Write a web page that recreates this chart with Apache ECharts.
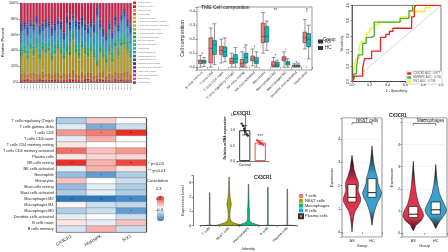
<!DOCTYPE html>
<html>
<head>
<meta charset="utf-8">
<script src="https://cdn.jsdelivr.net/npm/echarts/dist/echarts.min.js"></script>
<style>
html,body{margin:0;padding:0;background:#fff}
#main{width:448px;height:252px}
</style>
</head>
<body>
<div id="main"></div>
<script>
// ---------- data ----------
var FONT = 'Liberation Sans, Arial, sans-serif';

// A: CIBERSORT stacked bars
var samples = ['AS01','AS02','AS03','AS04','AS05','AS06','AS07','AS08','AS09','AS10','AS11','AS12','AS13','AS14','AS15','AS16','AS17','AS18','AS19','AS20',
  'HC01','HC02','HC03','HC04','HC05','HC06','HC07','HC08','HC09','HC10','HC11','HC12','HC13','HC14','HC15','HC16','HC17'];
var cellTypes = ['B cells naive','B cells memory','Plasma cells','T cells CD8','T cells CD4 naive','T cells CD4 memory resting',
  'T cells CD4 memory activated','T cells follicular helper','T cells regulatory (Tregs)','T cells gamma delta','NK cells resting',
  'NK cells activated','Monocytes','Macrophages M0','Macrophages M1','Macrophages M2','Dendritic cells resting',
  'Dendritic cells activated','Mast cells resting','Mast cells activated','Eosinophils','Neutrophils'];
var typeColors = ['#E41E26','#B31B2C','#E8892B','#C8701E','#D4B51C','#B39E1F','#A9C52A','#6CBF2F','#3FAE3B','#2D9A4A','#21C15C',
  '#1FAE8E','#22B5C9','#3D93C9','#2F6FC3','#2552B2','#272E9E','#6A2FB3','#9B2DB3','#C82AA8','#E74A98','#D6214F'];
var bNaive   = [2,1,3,2,1,2,3,1,2,2,1,3,2,1,2,2,3,1,2,2,1,3,2,2,1,2,3,1,2,2,1,3,2,1,2,2,1];
var bMemory  = [1,2,1,0,1,1,0,2,1,1,2,0,1,1,1,0,1,2,1,0,1,1,2,1,0,1,1,2,1,1,0,1,1,2,1,0,1];
var plasma   = [2,1,2,3,1,2,1,2,3,1,2,2,1,3,2,1,2,2,1,2,3,1,2,1,2,1,2,3,1,2,2,1,2,1,3,2,1];
var tCD8     = [5,7,4,6,8,5,6,9,4,7,5,6,8,4,6,7,5,9,6,4,7,5,6,8,5,3,6,7,4,6,5,8,6,7,5,9,6];
var cd4Naive = [2,1,3,2,1,2,1,3,2,1,2,1,2,3,1,2,1,2,2,1,3,2,1,2,1,1,2,1,2,3,1,2,1,2,1,2,1];
var cd4Rest  = [18,22,15,25,20,28,17,24,21,26,16,20,27,22,14,25,19,30,23,18,26,21,17,24,20,12,22,16,13,24,15,26,20,28,30,22,18];
var cd4Act   = [1,2,1,1,3,1,2,1,1,2,1,3,1,1,2,1,1,2,1,3,1,1,2,1,1,0,1,2,1,1,3,1,1,2,1,1,2];
var tfh      = [2,1,2,3,1,2,2,1,3,2,1,2,1,2,3,1,2,1,2,2,1,3,2,1,2,1,2,1,3,2,1,2,2,1,2,3,1];
var tregs    = [1,2,2,1,2,1,3,2,1,2,2,1,2,1,2,3,1,2,1,2,1,2,1,3,2,1,1,2,2,1,2,1,3,1,2,1,2];
var gammaD   = [2,1,1,2,3,1,1,2,2,1,3,1,2,2,1,1,3,1,2,1,2,1,3,1,2,1,2,1,1,2,1,3,1,2,1,2,1];
var nkRest   = [4,3,5,2,4,6,3,4,5,3,4,5,2,6,3,4,5,3,4,6,2,4,5,3,4,2,3,5,4,3,6,2,4,3,5,4,3];
var nkAct    = [1,2,1,1,2,1,2,1,1,2,1,1,2,1,1,2,1,1,2,1,1,2,1,1,2,1,1,2,1,1,2,1,1,2,1,1,2];
var mono     = [8,6,9,7,5,8,10,6,7,8,9,6,7,8,6,9,7,5,8,10,7,6,8,9,7,30,8,6,9,7,8,6,10,7,8,6,9];
var macM0    = [12,14,10,13,15,11,12,10,14,13,11,12,14,12,10,15,13,10,12,14,11,13,10,12,14,20,12,10,11,13,10,12,11,13,14,12,11];
var macM1    = [2,1,2,2,1,2,1,2,1,2,2,1,2,1,2,1,2,1,2,1,2,2,1,2,1,1,2,1,2,1,2,1,2,1,2,1,2];
var macM2    = [6,5,7,5,6,4,7,5,6,4,6,7,5,6,5,7,6,4,5,6,7,5,6,4,6,8,5,6,5,7,4,6,5,6,4,5,6];
var dcRest   = [2,3,2,1,2,3,2,2,1,3,2,2,1,3,2,2,3,1,2,2,3,2,1,2,3,2,2,3,1,2,2,3,2,1,2,3,2];
var dcAct    = [1,1,2,1,1,1,2,1,1,1,2,1,1,1,2,1,1,1,2,1,1,1,2,1,1,1,2,1,1,1,2,1,1,1,2,1,1];
var mastRest = [1,0,1,1,0,1,1,0,1,2,0,1,1,0,1,1,0,1,1,0,1,2,0,1,1,0,1,1,0,1,1,0,2,1,0,1,1];
var mastAct  = [0,1,0,0,1,0,0,1,0,0,1,0,0,1,0,1,1,0,0,1,0,0,1,0,0,1,0,0,1,0,0,1,0,0,1,0,0];
var eosino   = [1,0,1,1,1,0,1,1,0,1,1,0,1,1,0,1,1,0,1,1,0,1,1,0,1,0,1,1,0,1,1,0,1,1,0,1,1];
var neutro   = [24,22,28,20,26,16,28,26,22,20,30,24,18,22,37,13,22,11,20,22,16,24,28,22,26,3,20,32,43,22,37,16,26,11,7,18,26];
var rawA = [bNaive,bMemory,plasma,tCD8,cd4Naive,cd4Rest,cd4Act,tfh,tregs,gammaD,nkRest,nkAct,mono,macM0,macM1,macM2,
  dcRest,dcAct,mastRest,mastAct,eosino,neutro];

// B: TME box plot  [min, Q1, median, Q3, max]
var cellsB = ['B cells memory','T cells CD8','T cells CD4 naive','T cells regulatory (Tregs)','NK cells resting',
  'NK cells activated','Monocytes','Macrophages M0','Macrophages M2','Dendritic cells activated','Neutrophils'];
var boxAS = [[0,0.025,0.04,0.052,0.085],[0,0.03,0.135,0.21,0.28],[0.03,0.09,0.12,0.15,0.2],[0,0.025,0.04,0.065,0.1],
  [0,0.005,0.025,0.055,0.11],[0.01,0.045,0.06,0.08,0.13],[0.1,0.175,0.22,0.315,0.39],[0,0.005,0.015,0.04,0.07],
  [0,0.045,0.06,0.075,0.11],[0,0.004,0.008,0.015,0.025],[0.13,0.175,0.21,0.25,0.34]];
var boxHC = [[0.005,0.028,0.04,0.05,0.07],[0.02,0.09,0.16,0.19,0.31],[0.04,0.075,0.11,0.145,0.21],[0,0.03,0.06,0.09,0.14],
  [0,0.03,0.07,0.1,0.16],[0,0.025,0.04,0.07,0.11],[0.12,0.18,0.22,0.29,0.33],[0,0.005,0.015,0.035,0.05],
  [0,0.015,0.03,0.04,0.06],[0,0.004,0.01,0.016,0.03],[0.06,0.145,0.2,0.24,0.3]];
var outliersB = [[0,0.1],[4,0.14],[5,0.15],[7,0.09],[8,0.13],[9,0.04],[10,0.4],[10,0.0]];
var sigB = [[7,0.4,'**'],[10,0.4,'*']];

// C: ROC
var rocNames = ['CX3CR1 AUC : 0.677','HNRNPK AUC : 0.765','SIX1 AUC : 0.788'];
var rocCX3CR1 = [[0,0],[0.02,0.04],[0.02,0.07],[0.12,0.07],[0.12,0.18],[0.14,0.18],[0.14,0.3],[0.22,0.3],[0.22,0.4],[0.32,0.4],
  [0.32,0.58],[0.38,0.58],[0.38,0.62],[0.42,0.62],[0.42,0.66],[0.46,0.66],[0.46,0.7],[0.67,0.7],[0.67,0.85],[0.7,0.85],
  [0.7,0.97],[0.72,0.97],[0.72,1],[1,1]];
var rocHNRNPK = [[0,0],[0.02,0.04],[0.02,0.1],[0.05,0.1],[0.05,0.18],[0.07,0.18],[0.07,0.35],[0.12,0.35],[0.12,0.5],[0.16,0.5],
  [0.16,0.58],[0.22,0.58],[0.22,0.6],[0.25,0.6],[0.25,0.78],[0.54,0.78],[0.54,0.83],[0.64,0.83],[0.64,0.93],[0.68,0.93],
  [0.68,1],[1,1]];
var rocSIX1 = [[0,0],[0.02,0.05],[0.02,0.15],[0.04,0.15],[0.04,0.3],[0.08,0.3],[0.08,0.45],[0.1,0.45],[0.1,0.52],[0.15,0.52],
  [0.15,0.55],[0.17,0.55],[0.17,0.65],[0.2,0.65],[0.2,0.7],[0.25,0.7],[0.25,0.75],[0.3,0.75],[0.3,0.78],[0.55,0.78],
  [0.55,0.85],[0.65,0.85],[0.65,0.92],[0.82,0.92],[0.82,0.97],[0.88,0.97],[0.88,1],[1,1]];
var rocColors = ['#E8201E','#45B035','#F4EE2A'];

// D: correlation heatmap
var genes = ['CX3CR1','HNRNPK','SIX1'];
var rowsD = ['T cells regulatory (Tregs)','T cells gamma delta','T cells CD8','T cells CD4 naive','T cells CD4 memory resting',
  'T cells CD4 memory activated','Plasma cells','NK cells resting','NK cells activated','Neutrophils','Monocytes',
  'Mast cells resting','Mast cells activated','Macrophages M2','Macrophages M1','Macrophages M0',
  'Dendritic cells activated','B cells naive','B cells memory'];
var corrCX3CR1 = [-0.15,-0.06,0.2,-0.05,0.05,0.28,0.05,0.4,-0.05,-0.2,0.12,-0.2,-0.15,-0.4,0.02,-0.15,-0.05,0.05,-0.08];
var corrHNRNPK = [0.1,-0.25,0.25,0.15,0.0,0.12,0.08,0.15,0.15,-0.3,0.0,-0.05,-0.05,-0.4,-0.1,-0.1,0.0,-0.05,0.15];
var corrSIX1   = [0.0,-0.1,0.4,0.0,0.0,0.2,0.08,0.35,0.05,-0.15,-0.1,-0.15,-0.15,-0.35,-0.12,-0.3,-0.1,0.12,-0.1];
var sigCX3CR1 = ['','','','','','*','','**','','','','','','**','','','','',''];
var sigHNRNPK = ['','*','*','','','','','','','*','','','','**','','','','',''];
var sigSIX1   = ['','','**','','','','','**','','','','','','**','','*','','',''];

// E: qPCR bar
var groupsE = ['Control','AS'];
var meansE = [1.0, 0.6];
var sdE = [0.15, 0.06];
var ptsControl = [1.22,1.15,1.05,0.95,0.88,0.83];
var ptsAS = [0.68,0.64,0.6,0.58,0.56,0.52];

// F: single-cell violin (level, half width as share of band)
var identities = ['T cells','NK&T cells','Macrophages','B cells','Plasma cells'];
var idColors = ['#F8766D','#A3A500','#00BF7D','#00B0F6','#E76BF3'];
var violinsF = [
  {lv:[0,0.03,2.3], w:[0.42,0.02,0.015]},
  {lv:[0,0.08,0.18,0.3,0.5,0.8,1.1,1.35,1.55,1.75,2.0,2.4,2.8,3.4], w:[0.7,0.5,0.25,0.1,0.05,0.04,0.06,0.1,0.11,0.08,0.05,0.03,0.02,0.01]},
  {lv:[0,0.08,0.18,0.3,0.6,0.9,1.1,1.4,2.0,2.9], w:[0.62,0.42,0.2,0.07,0.04,0.05,0.05,0.03,0.02,0.01]},
  {lv:[0,0.03,2.67], w:[0.45,0.02,0.015]},
  {lv:[0,0.03,2.55], w:[0.45,0.02,0.015]}
];

// G: group violins, boxes [Q1, median, Q3]
var groupsG = ['AS','HC'];
var groupColors = ['#E0344E','#3AA0CC'];
var nkAS = {lv:[0.02,0.4,0.7,0.9,1.1,1.3,1.45,1.6,1.8,2.0,2.2,2.4,2.7,3.0,3.3], w:[0,0.04,0.09,0.16,0.3,0.42,0.44,0.38,0.3,0.33,0.3,0.2,0.1,0.05,0]};
var nkHC = {lv:[0.3,0.6,0.9,1.1,1.3,1.5,1.7,1.9,2.1,2.3,2.6,3.0,3.4,3.7], w:[0,0.05,0.12,0.2,0.28,0.42,0.48,0.38,0.3,0.28,0.18,0.08,0.03,0]};
var nkBox = [[1.3,1.5,2.05],[1.5,1.7,2.3]];
var macAS = {lv:[0.1,0.35,0.55,0.75,0.9,1.1,1.3,1.6,2.0,2.4,2.8,3.25], w:[0,0.12,0.35,0.46,0.44,0.35,0.25,0.17,0.1,0.06,0.03,0]};
var macHC = {lv:[0.2,0.45,0.7,0.9,1.05,1.25,1.5,1.8,2.2,2.6,3.1], w:[0,0.12,0.3,0.44,0.48,0.4,0.28,0.16,0.08,0.04,0]};
var macBox = [[0.7,0.85,1.2],[0.85,1.05,1.4]];

// ---------- helpers ----------
function txt(size, extra) {
  var s = {fontFamily: FONT, fontSize: size, color: '#222', textBorderWidth: 0, textShadowBlur: 0};
  for (var k in extra) s[k] = extra[k];
  return s;
}
function isStep(v, step) { return Math.abs(v / step - Math.round(v / step)) < 1e-6; }

function violinRender(prof, fill, stroke, box) {
  return function (params, api) {
    var k = api.value(0);
    var band = api.size([1, 0])[0];
    var L = [], R = [];
    for (var i = 0; i < prof.lv.length; i++) {
      var c = api.coord([k, prof.lv[i]]);
      L.push([c[0] - prof.w[i] * band, c[1]]);
      R.unshift([c[0] + prof.w[i] * band, c[1]]);
    }
    var kids = [{type: 'polygon', shape: {points: L.concat(R)}, style: {fill: fill, stroke: stroke, lineWidth: 0.5}}];
    if (box) {
      var a = api.coord([k, box[0]]), m = api.coord([k, box[1]]), b = api.coord([k, box[2]]);
      var hw = 0.2 * band;
      kids.push({type: 'rect', shape: {x: a[0] - hw, y: b[1], width: 2 * hw, height: a[1] - b[1]},
        style: {fill: '#fff', stroke: '#000', lineWidth: 0.6}});
      kids.push({type: 'line', shape: {x1: m[0] - hw, y1: m[1], x2: m[0] + hw, y2: m[1]},
        style: {stroke: '#000', lineWidth: 0.9}});
    }
    return {type: 'group', children: kids};
  };
}
function gradFill(col) {
  return new echarts.graphic.LinearGradient(0, 0, 0, 1, [
    {offset: 0, color: '#000'}, {offset: 0.35, color: col}, {offset: 0.8, color: col}, {offset: 1, color: '#2a0a10'}]);
}
function bracketRender(label) {
  return function (params, api) {
    var y = api.value(1);
    var p0 = api.coord([0, y]), p1 = api.coord([1, y]);
    return {type: 'group', children: [
      {type: 'polyline', shape: {points: [[p0[0], p0[1] + 2], [p0[0], p0[1]], [p1[0], p1[1]], [p1[0], p1[1] + 2]]},
        style: {stroke: '#000', lineWidth: 0.5, fill: null}},
      {type: 'text', style: {text: label, x: (p0[0] + p1[0]) / 2, y: p0[1] - 0.5, align: 'center', verticalAlign: 'bottom',
        fontSize: 4, fontFamily: FONT, fill: '#000'}}
    ]};
  };
}

// ---------- option ----------
var series = [];

// A
var totals = samples.map(function (s, j) {
  var t = 0; rawA.forEach(function (arr) { t += arr[j]; }); return t;
});
rawA.forEach(function (arr, i) {
  series.push({name: cellTypes[i], type: 'bar', stack: 'pct', xAxisIndex: 0, yAxisIndex: 0, barCategoryGap: '20%',
    data: arr.map(function (v, j) { return v / totals[j] * 100; }),
    itemStyle: {color: typeColors[i], borderColor: '#333', borderWidth: 0.2}});
});

// B
series.push({name: 'AS', type: 'boxplot', xAxisIndex: 1, yAxisIndex: 1, boxWidth: [4, 4], data: boxAS,
  itemStyle: {color: '#F8766D', borderColor: '#333', borderWidth: 0.5}});
series.push({name: 'HC', type: 'boxplot', xAxisIndex: 1, yAxisIndex: 1, boxWidth: [4, 4], data: boxHC,
  itemStyle: {color: '#00BFC4', borderColor: '#333', borderWidth: 0.5}});
series.push({type: 'scatter', xAxisIndex: 1, yAxisIndex: 1, symbolSize: 1.2, data: outliersB, itemStyle: {color: '#333'}});
series.push({type: 'scatter', xAxisIndex: 1, yAxisIndex: 1, symbolSize: 0, data: sigB,
  label: {show: true, position: 'inside', formatter: function (p) { return p.data[2]; }, fontSize: 4.5, fontFamily: FONT,
    color: '#000', textBorderWidth: 0}});

// C
[rocCX3CR1, rocHNRNPK, rocSIX1].forEach(function (d, i) {
  series.push({name: rocNames[i], type: 'line', xAxisIndex: 2, yAxisIndex: 2, data: d, showSymbol: false,
    lineStyle: {color: rocColors[i], width: 1.3}, itemStyle: {color: rocColors[i]}, z: 5 - i});
});
series.push({type: 'line', xAxisIndex: 2, yAxisIndex: 2, data: [[0, 0], [1, 1]], showSymbol: false,
  lineStyle: {color: '#bbb', width: 0.6}});

// D
var corr = [corrCX3CR1, corrHNRNPK, corrSIX1];
var sigs = [sigCX3CR1, sigHNRNPK, sigSIX1];
var heat = [], stars = [];
corr.forEach(function (col, c) {
  col.forEach(function (v, r) {
    heat.push([c, r, v]);
    if (sigs[c][r]) stars.push([c, r, sigs[c][r]]);
  });
});
var heatIndex = series.length;
series.push({type: 'heatmap', xAxisIndex: 3, yAxisIndex: 3, data: heat,
  itemStyle: {borderColor: '#777', borderWidth: 0.4}});
series.push({type: 'scatter', xAxisIndex: 3, yAxisIndex: 3, symbolSize: 0, data: stars, z: 5,
  label: {show: true, position: 'inside', formatter: function (p) { return p.data[2]; }, fontSize: 4.2, fontFamily: FONT,
    color: '#111', textBorderWidth: 0, offset: [0, 1]}});

// E
series.push({type: 'bar', xAxisIndex: 4, yAxisIndex: 4, barWidth: 11,
  data: meansE.map(function (v, i) { return {value: v, itemStyle: {color: '#fff', borderColor: i ? '#E8231F' : '#000', borderWidth: 0.8}}; })});
series.push({type: 'custom', xAxisIndex: 5, yAxisIndex: 4, data: meansE.map(function (m, i) { return [i, m - sdE[i], m + sdE[i]]; }),
  renderItem: function (params, api) {
    var lo = api.coord([api.value(0), api.value(1)]), hi = api.coord([api.value(0), api.value(2)]);
    var col = api.value(0) ? '#E8231F' : '#000';
    return {type: 'group', children: [
      {type: 'line', shape: {x1: lo[0], y1: lo[1], x2: hi[0], y2: hi[1]}, style: {stroke: col, lineWidth: 0.6}},
      {type: 'line', shape: {x1: hi[0] - 2.5, y1: hi[1], x2: hi[0] + 2.5, y2: hi[1]}, style: {stroke: col, lineWidth: 0.6}},
      {type: 'line', shape: {x1: lo[0] - 2.5, y1: lo[1], x2: lo[0] + 2.5, y2: lo[1]}, style: {stroke: col, lineWidth: 0.6}}
    ]};
  }, z: 4});
[ptsControl, ptsAS].forEach(function (pts, g) {
  series.push({type: 'scatter', xAxisIndex: 5, yAxisIndex: 4, symbolSize: 2.4, z: 5,
    data: pts.map(function (v, i) { return [g + (i - (pts.length - 1) / 2) * 0.08, v]; }),
    itemStyle: {color: g ? '#E8231F' : '#000'}});
});
series.push({type: 'scatter', xAxisIndex: 5, yAxisIndex: 4, symbolSize: 0, data: [[1, 0.78]],
  label: {show: true, formatter: '***', fontSize: 4.5, fontFamily: FONT, color: '#000', textBorderWidth: 0, position: 'inside'}});

// F
violinsF.forEach(function (prof, k) {
  series.push({name: identities[k], type: 'custom', xAxisIndex: 6, yAxisIndex: 5, data: [[k, prof.lv[prof.lv.length - 1]]],
    itemStyle: {color: idColors[k]}, renderItem: violinRender(prof, idColors[k], '#333', null)});
});

// G
[[nkAS, nkHC, nkBox, 7, 6], [macAS, macHC, macBox, 8, 7]].forEach(function (g, p) {
  [g[0], g[1]].forEach(function (prof, k) {
    series.push({type: 'custom', xAxisIndex: g[3], yAxisIndex: g[4], data: [[k, prof.lv[prof.lv.length - 1]]],
      renderItem: violinRender(prof, gradFill(groupColors[k]), '#111', g[2][k])});
  });
  series.push({type: 'custom', xAxisIndex: g[3], yAxisIndex: g[4], data: [[0, p ? 4.95 : 4.7]],
    renderItem: bracketRender(p ? '***' : '*')});
});

var axisLineBlack = {show: true, lineStyle: {color: '#222', width: 0.6}};
var tick = {show: true, length: 1.5, lineStyle: {color: '#222', width: 0.5}};
var ggSplit = {show: true, lineStyle: {color: '#e6e6e6', width: 0.5}};
var noBorder = {borderWidth: 0};

var option = {
  animation: false,
  backgroundColor: '#fff',
  textStyle: {fontFamily: FONT},
  title: [
    {text: 'TME Cell composition', left: 196, top: 0, textStyle: txt(5, {fontWeight: 'normal'})},
    {text: 'Group', left: 318, top: 32, textStyle: txt(4.5, {fontWeight: 'normal'})},
    {text: 'CX3CR1', left: 228, top: 106, textStyle: txt(4.5, {fontWeight: 'bold'})},
    {text: 'CX3CR1', left: 249, top: 170, textStyle: txt(4.5, {fontWeight: 'bold'})},
    {text: 'CX3CR1', left: 384, top: 108, textStyle: txt(4.5, {fontWeight: 'bold'})},
    {text: 'NK&T cells', left: 351, top: 113, textStyle: txt(4.5, {fontWeight: 'normal'})},
    {text: 'Macrophages', left: 412, top: 113, textStyle: txt(4.5, {fontWeight: 'normal'})},
    {text: '* p<0.05', left: 143, top: 157, textStyle: txt(4.3, {fontWeight: 'normal'})},
    {text: '** p<0.01', left: 143, top: 164, textStyle: txt(4.3, {fontWeight: 'normal'})},
    {text: 'Correlation', left: 142, top: 174, textStyle: txt(4.3, {fontWeight: 'normal'})},
    {text: '0.3', left: 151, top: 182, textStyle: txt(4, {fontWeight: 'normal'})},
    {text: '0.0', left: 151, top: 192, textStyle: txt(4, {fontWeight: 'normal'})},
    {text: '-0.3', left: 151, top: 203, textStyle: txt(4, {fontWeight: 'normal'})}
  ],
  legend: [
    {data: cellTypes, left: 133, top: 1.5, orient: 'vertical', itemWidth: 3, itemHeight: 2.6, itemGap: 1.2, icon: 'rect',
      padding: 0, selectedMode: false, itemStyle: noBorder, textStyle: txt(2.3, {color: '#777', padding: [0, 0, 0, -3]})},
    {data: ['AS', 'HC'], left: 318, top: 39, orient: 'vertical', itemWidth: 5, itemHeight: 4, itemGap: 1.5, padding: 0,
      icon: 'rect', selectedMode: false, itemStyle: noBorder, textStyle: txt(4.5, {padding: [0, 0, 0, -3]})},
    {data: rocNames, right: 6, top: 71, orient: 'vertical', itemWidth: 4, itemHeight: 2.4, itemGap: 1, icon: 'rect',
      padding: 1, borderColor: '#999', borderWidth: 0.4, backgroundColor: '#fff', selectedMode: false, itemStyle: noBorder,
      textStyle: txt(2.8, {color: '#555', padding: [0, 0, 0, -3]})},
    {data: identities, left: 298, top: 194, orient: 'vertical', itemWidth: 4, itemHeight: 4, itemGap: 0.8, icon: 'rect',
      padding: 0, selectedMode: false, textStyle: txt(4, {padding: [0, 0, 0, -3]})}
  ],
  visualMap: {type: 'continuous', seriesIndex: heatIndex, dimension: 2, min: -0.4, max: 0.4, left: 142, top: 181, itemWidth: 7,
    itemHeight: 25, calculable: false, text: null, showLabel: false, hoverLink: false,
    inRange: {color: ['#2A7ABF', '#ffffff', '#EE2E24']}, textStyle: txt(4, {})},
  grid: [
    {left: 20, top: 3, width: 112, height: 79},
    {left: 197, top: 7, width: 115, height: 63, show: true, borderColor: '#555', borderWidth: 0.6},
    {left: 352, top: 3.5, width: 89, height: 78, show: true, borderColor: '#222', borderWidth: 0.6},
    {left: 55, top: 118, width: 91, height: 114, show: true, borderColor: '#111', borderWidth: 1.2},
    {left: 237, top: 115, width: 31, height: 46},
    {left: 200, top: 175.5, width: 97, height: 52.5},
    {left: 342, top: 118, width: 40, height: 119, show: true, borderColor: '#444', borderWidth: 0.6},
    {left: 402, top: 118, width: 45, height: 119, show: true, borderColor: '#444', borderWidth: 0.6}
  ],
  xAxis: [
    {gridIndex: 0, type: 'category', data: samples, axisLine: axisLineBlack, axisTick: {show: false},
      axisLabel: {rotate: 90, interval: 0, fontSize: 2.4, margin: 2, color: '#666', fontFamily: FONT}},
    {gridIndex: 1, type: 'category', data: cellsB, axisLine: {show: false}, axisTick: tick,
      axisLabel: {rotate: 45, interval: 0, fontSize: 3.4, margin: 2, color: '#333', fontFamily: FONT}},
    {gridIndex: 2, type: 'value', min: 0, max: 1, interval: 0.2, name: '1 - Specificity', nameLocation: 'middle', nameGap: 7,
      nameTextStyle: txt(3.6, {}), axisLine: axisLineBlack, axisTick: tick, splitLine: {show: false},
      axisLabel: {fontSize: 3.5, margin: 2, color: '#222', fontFamily: FONT, formatter: function (v) { return v.toFixed(1); }}},
    {gridIndex: 3, type: 'category', data: genes, axisLine: {show: false}, axisTick: {show: false},
      splitLine: {show: true, lineStyle: {color: '#111', width: 1.2}},
      axisLabel: {rotate: 30, fontSize: 4.5, margin: 4, color: '#222', fontFamily: FONT}},
    {gridIndex: 4, type: 'category', data: groupsE, axisLine: axisLineBlack, axisTick: tick,
      axisLabel: {fontSize: 3.8, margin: 2, color: '#222', fontFamily: FONT}},
    {gridIndex: 4, type: 'value', min: -0.5, max: 1.5, show: false},
    {gridIndex: 5, type: 'category', data: identities, axisLine: axisLineBlack, axisTick: tick,
      name: 'Identity', nameLocation: 'middle', nameGap: 17, nameTextStyle: txt(4, {}),
      axisLabel: {rotate: 45, interval: 0, fontSize: 3.5, margin: 2, color: '#222', fontFamily: FONT}},
    {gridIndex: 6, type: 'category', data: groupsG, axisLine: {show: false}, axisTick: tick, splitLine: {show: false},
      name: 'Group', nameLocation: 'middle', nameGap: 7, nameTextStyle: txt(3.8, {}),
      axisLabel: {fontSize: 3.8, margin: 2, color: '#333', fontFamily: FONT}},
    {gridIndex: 7, type: 'category', data: groupsG, axisLine: {show: false}, axisTick: tick, splitLine: {show: false},
      name: 'Group', nameLocation: 'middle', nameGap: 7, nameTextStyle: txt(3.8, {}),
      axisLabel: {fontSize: 3.8, margin: 2, color: '#333', fontFamily: FONT}}
  ],
  yAxis: [
    {gridIndex: 0, type: 'value', min: 0, max: 100, interval: 20, name: 'Relative Percent', nameLocation: 'middle', nameGap: 12,
      nameTextStyle: txt(4, {}), axisLine: axisLineBlack, axisTick: tick, splitLine: {show: false},
      axisLabel: {fontSize: 3.5, margin: 2, color: '#222', fontFamily: FONT, formatter: '{value}%'}},
    {gridIndex: 1, type: 'value', min: -0.02, max: 0.43, name: 'Cell composition', nameLocation: 'middle', nameGap: 11,
      nameTextStyle: txt(5, {}), axisLine: {show: false}, axisTick: tick, splitLine: {show: false},
      axisLabel: {fontSize: 4, margin: 2, color: '#333', fontFamily: FONT,
        formatter: function (v) { return (v >= 0 && v <= 0.4 && isStep(v, 0.1)) ? v.toFixed(1) : ''; }}},
    {gridIndex: 2, type: 'value', min: 0, max: 1, interval: 0.2, name: 'Sensitivity', nameLocation: 'middle', nameGap: 8,
      nameTextStyle: txt(3.6, {}), axisLine: axisLineBlack, axisTick: tick, splitLine: {show: false},
      axisLabel: {fontSize: 3.5, margin: 2, color: '#222', fontFamily: FONT, rotate: 90, formatter: function (v) { return v.toFixed(1); }}},
    {gridIndex: 3, type: 'category', data: rowsD, inverse: true, axisLine: {show: false}, axisTick: {show: false},
      axisLabel: {fontSize: 3.8, margin: 3, color: '#222', fontFamily: FONT, interval: 0}},
    {gridIndex: 4, type: 'value', min: 0, max: 1.5, interval: 0.5, name: 'Relative mRNA expression', nameLocation: 'middle',
      nameGap: 9, nameTextStyle: txt(3.4, {fontWeight: 'bold'}), axisLine: axisLineBlack, axisTick: tick, splitLine: {show: false},
      axisLabel: {fontSize: 3.5, margin: 2, color: '#222', fontFamily: FONT, formatter: function (v) { return v.toFixed(1); }}},
    {gridIndex: 5, type: 'value', min: 0, max: 3.5, interval: 1, offset: 7, name: 'Expression Level', nameLocation: 'middle',
      nameGap: 8, nameTextStyle: txt(4, {}), axisLine: axisLineBlack, axisTick: tick, splitLine: {show: false},
      axisLabel: {fontSize: 3.8, margin: 2, color: '#222', fontFamily: FONT,
        formatter: function (v) { return isStep(v, 1) ? String(v) : ''; }}},
    {gridIndex: 6, type: 'value', min: -0.2, max: 4.9, name: 'Expression', nameLocation: 'middle', nameGap: 7,
      nameTextStyle: txt(3.8, {}), axisLine: {show: false}, axisTick: tick, splitLine: ggSplit,
      axisLabel: {fontSize: 3.8, margin: 2, color: '#333', fontFamily: FONT,
        formatter: function (v) { return (v >= 0 && isStep(v, 1)) ? String(v) : ''; }}},
    {gridIndex: 7, type: 'value', min: -0.18, max: 5.2, name: 'Expression', nameLocation: 'middle', nameGap: 7,
      nameTextStyle: txt(3.8, {}), axisLine: {show: false}, axisTick: tick, splitLine: ggSplit,
      axisLabel: {fontSize: 3.8, margin: 2, color: '#333', fontFamily: FONT,
        formatter: function (v) { return (v >= 0 && v <= 4 && isStep(v, 1)) ? String(v) : ''; }}}
  ],
  series: series
};

var chart = echarts.init(document.getElementById('main'));
chart.setOption(option);
</script>
</body>
</html>
